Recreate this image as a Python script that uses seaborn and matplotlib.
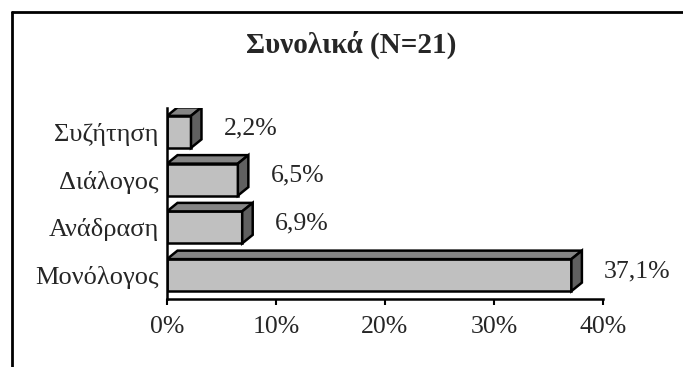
import matplotlib
matplotlib.use("Agg")
import matplotlib.pyplot as plt
import matplotlib.lines as mlines
from matplotlib.patches import Polygon
from matplotlib.ticker import FuncFormatter
import pandas as pd
import seaborn as sns

sns.set_style("white")
plt.rcParams["font.family"] = ["Liberation Serif", "DejaVu Serif"]

# data (percent)
categories = ["Συζήτηση", "Διάλογος", "Ανάδραση", "Μονόλογος"]
values = [2.2, 6.5, 6.9, 37.1]
value_labels = ["2,2%", "6,5%", "6,9%", "37,1%"]
title = "Συνολικά (N=21)"

df = pd.DataFrame({"cat": categories, "val": values})

fig = plt.figure(figsize=(6.83, 3.67), dpi=100)
ax = fig.add_axes([167 / 683, 1 - 299 / 367, 436 / 683, 191 / 367])

bar_h = 0.67
sns.barplot(data=df, x="val", y="cat", orient="h", ax=ax, width=bar_h,
            color="#c0c0c0", edgecolor="black", linewidth=1.8, saturation=1)

ax.set_xlim(0, 40)
ax.set_ylim(3.5, -0.5)

# 3D depth: about 10 px right, 8 px up
dx = 10.5 / 436 * 40
dy = 8.5 / 191 * 4
for i, v in enumerate(values):
    top = i - bar_h / 2
    bot = i + bar_h / 2
    top_face = Polygon([(0, top), (v, top), (v + dx, top - dy), (dx, top - dy)],
                       closed=True, facecolor="#858585", edgecolor="black", lw=1.8)
    side_face = Polygon([(v, top), (v + dx, top - dy), (v + dx, bot - dy), (v, bot)],
                        closed=True, facecolor="#606060", edgecolor="black", lw=1.8)
    ax.add_patch(top_face)
    ax.add_patch(side_face)
    ax.text(v + 3.0, i - 0.08, value_labels[i], ha="left", va="center", fontsize=18.5)

ax.xaxis.set_major_formatter(FuncFormatter(lambda x, p: f"{x:.0f}%"))
ax.set_xticks([0, 10, 20, 30, 40])
ax.set_xlabel("")
ax.set_ylabel("")
ax.set_yticks(range(len(categories)))
ax.set_yticklabels(categories)
ax.set_yticks([-0.5, 0.5, 1.5, 2.5, 3.5], minor=True)
ax.tick_params(axis="y", which="major", length=0, pad=6, labelsize=19)
ax.tick_params(axis="y", which="minor", length=4, width=1.5, direction="out", color="black")
ax.tick_params(axis="x", length=4, width=1.5, direction="out", color="black",
               pad=8, labelsize=18.5, bottom=True)

sns.despine(ax=ax, top=True, right=True)
for s in ["left", "bottom"]:
    ax.spines[s].set_color("black")
    ax.spines[s].set_linewidth(1.8)

fig.text(351 / 683, 1 - 45 / 367, title, ha="center", va="center",
         fontsize=21, fontweight="bold")

# chart frame (left and top edges)
fx = 12 / 683
fy = 1 - 12 / 367
fig.add_artist(mlines.Line2D([fx, fx], [0, fy], color="black", lw=2))
fig.add_artist(mlines.Line2D([fx, 1], [fy, fy], color="black", lw=2))

fig.savefig("out.png", dpi=100)
